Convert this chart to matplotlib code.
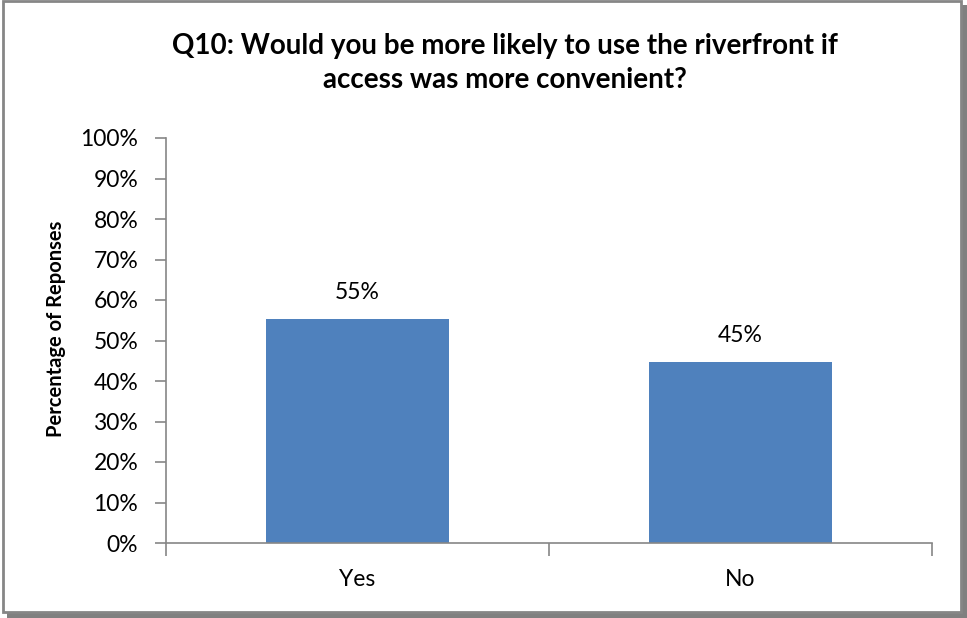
import matplotlib
matplotlib.use("Agg")
import matplotlib.pyplot as plt
from matplotlib.patches import Rectangle
from matplotlib.ticker import PercentFormatter, FixedLocator

categories = ["Yes", "No"]
values = [55.3, 44.7]
labels = ["55%", "45%"]
yticks = list(range(0, 101, 10))

title = "Q10: Would you be more likely to use the riverfront if\naccess was more convenient?"
ylabel = "Percentage of Reponses"

plt.rcParams['font.family'] = ['Lato', 'DejaVu Sans']

W, H = 967, 618
fig = plt.figure(figsize=(W / 100, H / 100), dpi=100)
fig.patch.set_facecolor("white")

# shadow and frame
fig.patches.append(Rectangle((7 / W, 0), (W - 7) / W, (H - 5) / H, transform=fig.transFigure,
                             facecolor="#808080", edgecolor="none", zorder=0))
fig.patches.append(Rectangle((2.5 / W, (H - 612) / H), (961 - 2.5) / W, (612 - 1) / H,
                             transform=fig.transFigure, facecolor="white",
                             edgecolor="#868686", linewidth=2, zorder=1))

ax = fig.add_axes([166 / W, 1 - 543 / H, (932 - 166) / W, (543 - 138) / H])
ax.set_zorder(5)
ax.set_facecolor("none")
x = list(range(len(categories)))
ax.bar(x, values, width=0.478, color="#4F81BD", zorder=2)
for xi, v, lab in zip(x, values, labels):
    ax.text(xi, v + 4, lab, ha="center", va="bottom", fontsize=16.5, color="black")

ax.set_xlim(-0.5, len(categories) - 0.5)
ax.set_ylim(0, 100)
ax.set_yticks(yticks)
ax.yaxis.set_major_formatter(PercentFormatter(decimals=0))
ax.set_xticks(x)
ax.set_xticklabels(categories)
ax.xaxis.set_minor_locator(FixedLocator([i - 0.5 for i in range(len(categories) + 1)]))
ax.tick_params(axis="x", which="major", length=0, labelsize=16.5, pad=19)
ax.tick_params(axis="x", which="minor", length=9, width=1.2, color="#868686", direction="out")
ax.tick_params(axis="y", length=8, width=1.2, color="#868686", labelsize=16.5, pad=12)

for s in ["top", "right"]:
    ax.spines[s].set_visible(False)
for s in ["left", "bottom"]:
    ax.spines[s].set_color("#868686")
    ax.spines[s].set_linewidth(1.2)

fig.text(56 / W, 1 - 329 / H, ylabel, rotation=90, ha="center", va="center",
         fontsize=14.5, fontweight="bold", zorder=6)
fig.text(505 / W, 1 - 63 / H, title, ha="center", va="center", fontsize=20,
         fontweight="bold", linespacing=1.38, zorder=6)

fig.savefig("out.png", dpi=100, facecolor="white")
